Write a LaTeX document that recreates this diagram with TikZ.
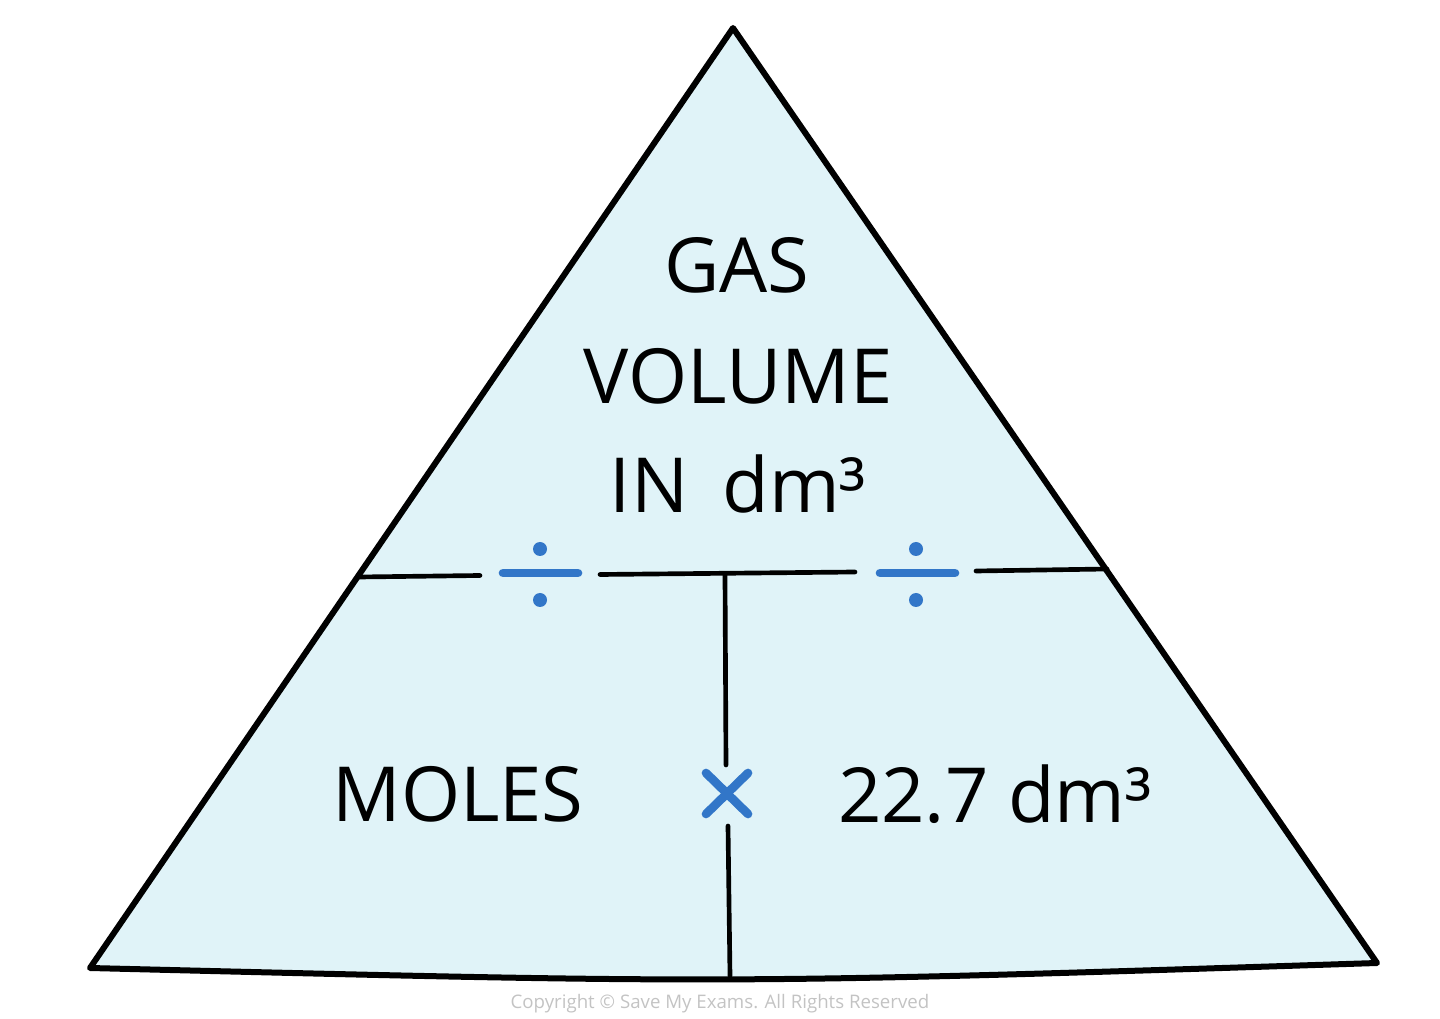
\documentclass[tikz,border=0pt]{standalone}
\usepackage{fontspec}
\setmainfont{Open Sans}
\definecolor{trifill}{RGB}{224,243,248}
\definecolor{signblue}{RGB}{50,118,200}
\definecolor{copygray}{RGB}{195,195,195}
\tikzset{every picture/.style={line width=0.75pt}}
\tikzset{
  edge/.style={line width=4.5pt, line join=round, line cap=round},
  split/.style={line width=3.5pt, line cap=round},
  sign/.style={color=signblue, line width=6.5pt, line cap=round},
  word/.style={font=\fontsize{57}{60}\selectfont, inner sep=0pt},
}

\begin{document}
\begin{tikzpicture}[x=0.75pt,y=0.75pt,yscale=-1,xscale=1]
		\useasboundingbox (0,0) rectangle (1440,1019);

		% corners of the triangle
		\coordinate (apex) at (733,28);
		\coordinate (botL) at (90,968);
		\coordinate (botR) at (1377,963);
		\draw [edge, fill=trifill] (apex) -- (botL) .. controls (730,984) .. (botR) -- cycle;

		% dividing lines
		\coordinate (hL) at (359,577);
		\coordinate (hR) at (1107,569);
		\coordinate (hA) at (480,575.5);
		\coordinate (hB) at (600,574.5);
		\coordinate (hC) at (855,572);
		\coordinate (hD) at (976,571);
		\draw [split] (hL) -- (hA);
		\draw [split] (hB) -- (hC);
		\draw [split] (hD) -- (hR);

		\coordinate (vT) at (725,575);
		\coordinate (vM1) at (726,765);
		\coordinate (vM2) at (728,826);
		\coordinate (vB) at (730,976);
		\draw [split] (vT) -- (vM1);
		\draw [split] (vM2) -- (vB);

		% divide signs
		\draw [sign] (503,573) -- (578,573);
		\fill [signblue] (540,549) circle [radius=7];
		\fill [signblue] (540,600) circle [radius=7];
		\draw [sign] (880,573) -- (955,573);
		\fill [signblue] (916,549) circle [radius=7];
		\fill [signblue] (916,600) circle [radius=7];

		% times sign
		\draw [sign] (706,773) -- (748,814);
		\draw [sign] (748,773) -- (706,814);

		% labels
		\node [word] (gas) at (737,265) {GAS};
		\node [word] (volume) at (738,376) {VOLUME};
		\node [word] (indm) at (738,484) {IN\hspace{0.45em}dm³};
		\node [word] (moles) at (458,794) {MOLES};
		\node [word] (molar) at (995,794) {22.7 dm³};

		\node [color=copygray, font=\fontsize{14}{15}\selectfont] (copy) at (720,1004) {Copyright © Save My Exams. All Rights Reserved};

		\end{tikzpicture}
\end{document}
